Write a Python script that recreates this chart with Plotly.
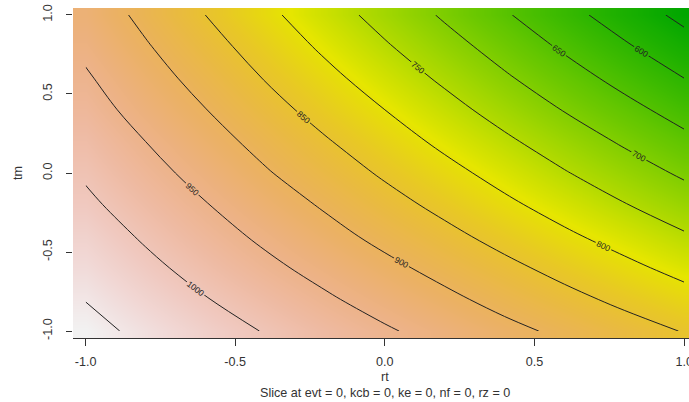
import colorsys
import plotly.graph_objects as go

# ---- data ----
rt = [-1.0, -0.8, -0.6, -0.4, -0.2, 0.0, 0.2, 0.4, 0.6, 0.8, 1.0]
tm = [-1.0, -0.8, -0.6, -0.4, -0.2, 0.0, 0.2, 0.4, 0.6, 0.8, 1.0]
# predicted response, rows = tm (bottom to top), columns = rt (left to right)
response = [
    [1062, 1041, 1019, 998, 976, 955, 934, 912, 891, 869, 848],
    [1049, 1025, 1002, 979, 956, 933, 910, 886, 863, 840, 817],
    [1035, 1010, 985, 960, 936, 911, 886, 861, 836, 811, 786],
    [1022, 995, 968, 942, 915, 888, 862, 835, 808, 782, 755],
    [1008, 980, 952, 923, 895, 866, 838, 809, 781, 752, 724],
    [995, 965, 935, 904, 874, 844, 814, 784, 753, 723, 693],
    [982, 950, 918, 886, 854, 822, 790, 758, 726, 694, 662],
    [968, 934, 901, 867, 833, 800, 766, 732, 698, 665, 631],
    [955, 919, 884, 848, 813, 777, 742, 706, 671, 635, 600],
    [941, 904, 867, 830, 792, 755, 718, 681, 643, 606, 569],
    [928, 889, 850, 811, 772, 733, 694, 655, 616, 577, 538],
]
tick_vals = [-1.0, -0.5, 0.0, 0.5, 1.0]
tick_text = ["-1.0", "-0.5", "0.0", "0.5", "1.0"]
contour_start, contour_end, contour_step = 550, 1050, 50
x_title = "rt"
y_title = "tm"
sub_title = "Slice at evt = 0, kcb = 0, ke = 0, nf = 0, rz = 0"

# ---- R terrain.colors(50) palette ----
def terrain_colors(n):
    k = n // 2
    cols = []
    for i in range(k):
        t = i / (k - 1)
        h = 4 / 12 + (2 / 12 - 4 / 12) * t
        s = 1.0
        v = 0.65 + (0.9 - 0.65) * t
        cols.append(colorsys.hsv_to_rgb(h, s, v))
    m = n - k
    for j in range(1, m + 1):
        t = j / m
        h = 2 / 12 * (1 - t)
        s = 1 - t
        v = 0.9 + 0.05 * t
        cols.append(colorsys.hsv_to_rgb(h, s, v))
    return ["rgb(%d,%d,%d)" % tuple(round(c * 255) for c in rgb) for rgb in cols]

pal = terrain_colors(50)
cscale = [[i / (len(pal) - 1), c] for i, c in enumerate(pal)]

zmin = min(min(r) for r in response)
zmax = max(max(r) for r in response)

fig = go.Figure()
fig.add_trace(go.Heatmap(
    x=rt, y=tm, z=response, zsmooth="best", colorscale=cscale,
    zmin=zmin, zmax=zmax, showscale=False, hoverinfo="skip",
))
fig.add_trace(go.Contour(
    x=rt, y=tm, z=response, showscale=False,
    contours=dict(coloring="none", start=contour_start, end=contour_end,
                  size=contour_step, showlabels=True,
                  labelfont=dict(size=8.5, color="#222", family="Liberation Sans, Arial")),
    line=dict(color="#222222", width=1, smoothing=1.0),
    hoverinfo="skip",
))

# the original picture is cropped at its right edge: the plot runs past the window
W, H = 697, 402
L, T, B = 73, 8, 64
pw = W - L
ph = H - T - B
axis_font = dict(family="Liberation Sans, Arial", size=12.6, color="#333")
fig.update_layout(
    width=W, height=H,
    margin=dict(l=L, r=0, t=T, b=B),
    paper_bgcolor="white", plot_bgcolor="white",
    font=axis_font,
    showlegend=False,
    xaxis=dict(range=[-1.042, 1.043], tickvals=tick_vals, ticktext=tick_text,
               ticks="outside", ticklen=7, tickcolor="#333", showline=True,
               linecolor="#333", linewidth=1, showgrid=False, zeroline=False,
               ticklabelstandoff=5, tickfont=axis_font),
    yaxis=dict(range=[-1.044, 1.044], tickvals=tick_vals, ticktext=tick_text,
               ticks="outside", ticklen=6, tickcolor="#333", showline=False,
               showgrid=False, zeroline=False, tickangle=-90,
               ticklabelstandoff=9, tickfont=axis_font),
    annotations=[
        dict(text=y_title, xref="paper", yref="paper", x=(18 - L) / pw, y=0.5,
             xanchor="center", yanchor="middle",
             textangle=-90, showarrow=False, font=axis_font),
        dict(text=x_title, xref="paper", yref="paper", x=(385 - L) / pw,
             y=-39 / ph, xanchor="center", yanchor="middle",
             showarrow=False, font=axis_font),
        dict(text=sub_title, xref="paper", yref="paper", x=(385 - L) / pw,
             y=-55 / ph, xanchor="center", yanchor="middle",
             showarrow=False, font=axis_font),
    ],
)

fig.write_html(
    "out.html",
    config={"displayModeBar": False},
    post_script="document.body.style.margin='0px';document.body.style.overflow='hidden';",
)
